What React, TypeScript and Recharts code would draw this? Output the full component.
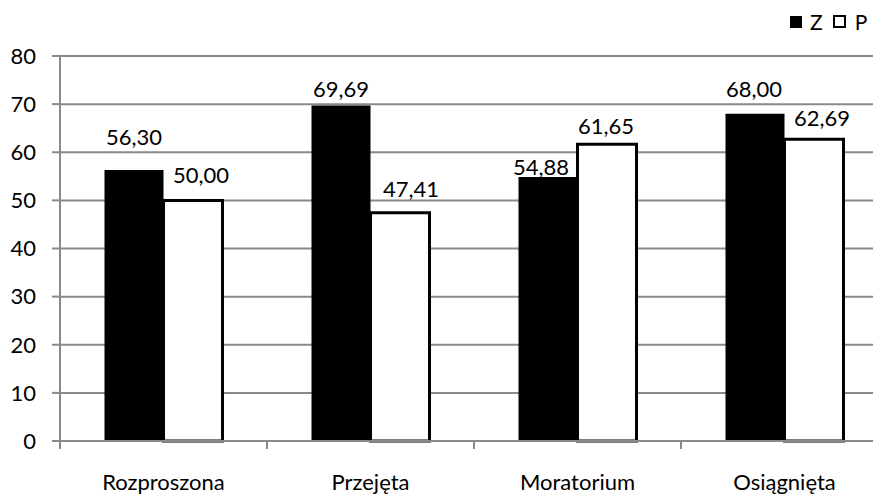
import React from "react";
import { BarChart, Bar, XAxis, YAxis, CartesianGrid, LabelList } from "recharts";

const categories = ["Rozproszona", "Przejęta", "Moratorium", "Osiągnięta"];
const seriesZ = [56.3, 69.69, 54.88, 68.0];
const seriesP = [50.0, 47.41, 61.65, 62.69];
const yTicks = [0, 10, 20, 30, 40, 50, 60, 70, 80];

// label placement tweaks (gap above bar top, horizontal nudge), as in the source chart
const labelGapZ = [25, 9, 2, 17];
const labelDxZ = [0, 0, -7, -1];
const labelGapP = [17, 16, 10, 13];
const labelDxP = [8, 11, -1, 8];

const data = categories.map((name, i) => ({ name, Z: seriesZ[i], P: seriesP[i] }));

const FONT = "Lato, 'Open Sans', sans-serif";
const FS = 22;
const GRID = "#8a8a8a";

const fmt = (v: any) => Number(v).toFixed(2).replace(".", ",");

function CategoryTick(props: any) {
  const { x, y, payload } = props;
  const left = x - (payload.offset ?? 0);
  return (
    <g>
      <line x1={left} y1={y} x2={left} y2={y + 8} stroke={GRID} strokeWidth={2} />
      <text x={x} y={y + 49} textAnchor="middle" fill="#000" fontSize={FS} fontFamily={FONT}>
        {payload.value}
      </text>
    </g>
  );
}

function makeLabel(gaps: number[], dxs: number[]) {
  return function ValueLabel(props: any) {
    const { x, y, width, value, index } = props;
    return (
      <text
        x={x + width / 2 + dxs[index]}
        y={y - gaps[index]}
        textAnchor="middle"
        fill="#000"
        fontSize={FS}
        fontFamily={FONT}
      >
        {fmt(value)}
      </text>
    );
  };
}

const LabelZ = makeLabel(labelGapZ, labelDxZ);
const LabelP = makeLabel(labelGapP, labelDxP);

export default function App() {
  return (
    <div
      style={{
        position: "absolute",
        left: 0,
        top: 0,
        width: 873,
        height: 496,
        overflow: "hidden",
        background: "#fff",
        fontFamily: FONT,
      }}
    >
      <div
        style={{
          position: "absolute",
          top: 9,
          left: 790,
          display: "flex",
          alignItems: "center",
          fontSize: 21,
          color: "#000",
          whiteSpace: "nowrap",
          zIndex: 2,
        }}
      >
        <span style={{ display: "inline-block", width: 12, height: 12, background: "#000" }} />
        <span style={{ marginLeft: 8 }}>Z</span>
        <span
          style={{
            display: "inline-block",
            width: 9,
            height: 9,
            border: "2.5px solid #000",
            background: "#fff",
            marginLeft: 10,
          }}
        />
        <span style={{ marginLeft: 9 }}>P</span>
      </div>
      <BarChart
        width={900}
        height={496}
        data={data}
        margin={{ top: 56, right: 12, bottom: 0, left: 0 }}
        barGap={0}
        barCategoryGap="21.5%"
      >
        <CartesianGrid vertical={false} stroke={GRID} strokeWidth={2} />
        <XAxis
          dataKey="name"
          height={55}
          axisLine={{ stroke: GRID, strokeWidth: 2 }}
          tickLine={false}
          tickSize={0}
          tickMargin={0}
          tick={<CategoryTick />}
          interval={0}
        />
        <YAxis
          width={60}
          domain={[0, 80]}
          ticks={yTicks}
          interval={0}
          axisLine={{ stroke: GRID, strokeWidth: 2 }}
          tickLine={{ stroke: GRID, strokeWidth: 2 }}
          tickSize={8}
          tickMargin={16}
          tick={{ fill: "#000", fontSize: FS, fontFamily: FONT }}
        />
        <Bar dataKey="Z" fill="#000" isAnimationActive={false}>
          <LabelList dataKey="Z" content={<LabelZ />} />
        </Bar>
        <Bar dataKey="P" fill="#fff" stroke="#000" strokeWidth={3} isAnimationActive={false}>
          <LabelList dataKey="P" content={<LabelP />} />
        </Bar>
      </BarChart>
    </div>
  );
}
